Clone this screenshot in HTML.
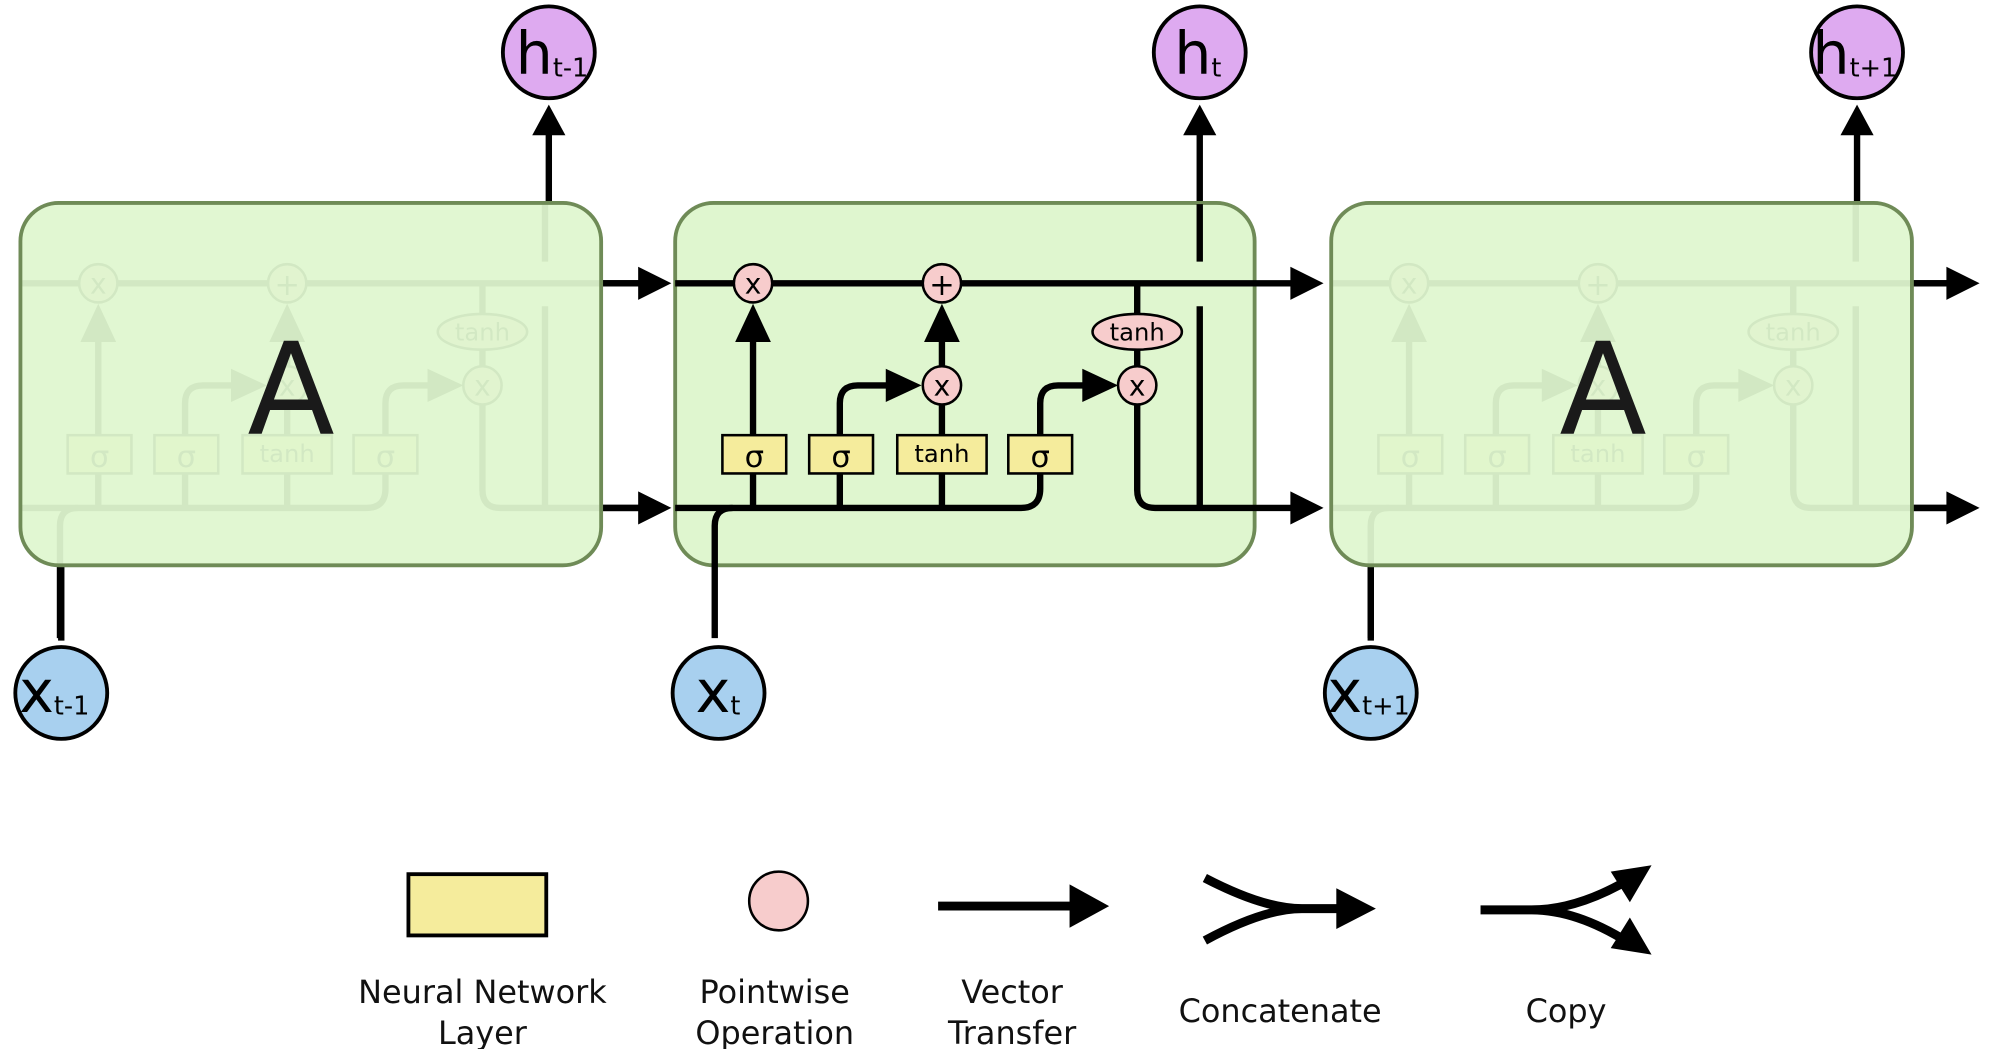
<!DOCTYPE html>
<html><head><meta charset="utf-8"><style>
html,body{margin:0;padding:0;background:#fff;}
svg{display:block;}
text{font-family:"DejaVu Sans","Liberation Sans",sans-serif;}
</style></head><body>
<svg width="2000" height="1049" viewBox="0 0 1567 822" preserveAspectRatio="none" xmlns="http://www.w3.org/2000/svg">
<defs>
<g id="cell">
  <line x1="529" y1="222" x2="1030" y2="222" stroke="#000" stroke-width="5"/>
  <path d="M529 398 L800 398 Q815 398 815 383 L815 360" fill="none" stroke="#000" stroke-width="5"/>
  <path d="M560 500 L560 412 Q560 398 574 398" fill="none" stroke="#000" stroke-width="5"/>
  <line x1="590" y1="398" x2="590" y2="260" stroke="#000" stroke-width="5"/>
  <polygon points="590,238 576,268 604,268" fill="#000"/>
  <path d="M658 398 L658 316 Q658 302 672 302 L705 302" fill="none" stroke="#000" stroke-width="5"/>
  <polygon points="722,302 694,289 694,315" fill="#000"/>
  <line x1="738" y1="398" x2="738" y2="260" stroke="#000" stroke-width="5"/>
  <polygon points="738,238 724,268 752,268" fill="#000"/>
  <path d="M815 360 L815 316 Q815 302 829 302 L860 302" fill="none" stroke="#000" stroke-width="5"/>
  <polygon points="876,302 848,289 848,315" fill="#000"/>
  <line x1="891" y1="222" x2="891" y2="302" stroke="#000" stroke-width="5"/>
  <path d="M891 302 L891 384 Q891 398 905 398 L1030 398" fill="none" stroke="#000" stroke-width="5"/>
  <path d="M940 398 L940 240" fill="none" stroke="#000" stroke-width="5"/>
  <line x1="940" y1="205" x2="940" y2="160" stroke="#000" stroke-width="5"/>
  <circle cx="590" cy="222" r="15" fill="#f7cccc" stroke="#000" stroke-width="2"/>
  <text x="590" y="230" font-size="22" text-anchor="middle">x</text>
  <circle cx="738" cy="222" r="15" fill="#f7cccc" stroke="#000" stroke-width="2"/>
  <text x="738" y="231" font-size="24" text-anchor="middle">+</text>
  <circle cx="738" cy="302" r="15" fill="#f7cccc" stroke="#000" stroke-width="2"/>
  <text x="738" y="310" font-size="22" text-anchor="middle">x</text>
  <circle cx="891" cy="302" r="15" fill="#f7cccc" stroke="#000" stroke-width="2"/>
  <text x="891" y="310" font-size="22" text-anchor="middle">x</text>
  <ellipse cx="891" cy="260" rx="35" ry="14" fill="#f7cccc" stroke="#000" stroke-width="2"/>
  <text x="891" y="267" font-size="19" text-anchor="middle">tanh</text>
  <rect x="566" y="341" width="50" height="30" fill="#f5ec9c" stroke="#000" stroke-width="2"/>
  <text x="591" y="366" font-size="24" text-anchor="middle">σ</text>
  <rect x="634" y="341" width="50" height="30" fill="#f5ec9c" stroke="#000" stroke-width="2"/>
  <text x="659" y="366" font-size="24" text-anchor="middle">σ</text>
  <rect x="703" y="341" width="70" height="30" fill="#f5ec9c" stroke="#000" stroke-width="2"/>
  <text x="738" y="362" font-size="19" text-anchor="middle">tanh</text>
  <rect x="790" y="341" width="50" height="30" fill="#f5ec9c" stroke="#000" stroke-width="2"/>
  <text x="815" y="366" font-size="24" text-anchor="middle">σ</text>
</g>
</defs>

<g stroke="#000" stroke-width="5">
  <line x1="471" y1="222" x2="505" y2="222"/><line x1="471" y1="398" x2="505" y2="398"/>
  <line x1="1498" y1="222" x2="1530" y2="222"/><line x1="1498" y1="398" x2="1530" y2="398"/>
  <line x1="430" y1="158" x2="430" y2="100"/>
  <line x1="940" y1="160" x2="940" y2="100"/>
  <line x1="1455" y1="158" x2="1455" y2="100"/>
  <line x1="48" y1="443" x2="48" y2="502"/>
  <line x1="1074" y1="443" x2="1074" y2="502"/>
</g>
<g fill="#000">
  <polygon points="526,222 500,209 500,235"/><polygon points="526,398 500,385 500,411"/>
  <polygon points="1037,222 1011,209 1011,235"/><polygon points="1037,398 1011,385 1011,411"/>
  <polygon points="1551,222 1525,209 1525,235"/><polygon points="1551,398 1525,385 1525,411"/>
  <polygon points="430,82 417,106 443,106"/><polygon points="940,82 927,106 953,106"/><polygon points="1455,82 1442,106 1468,106"/>
</g>

<use href="#cell" transform="translate(-513,0)"/>
<rect x="16" y="159" width="455" height="284" rx="30" fill="#dff6cf" fill-opacity="0.94" stroke="#6f8b57" stroke-width="3"/>
<text x="228" y="340" font-size="100" text-anchor="middle" fill="#1a1a1a">A</text>

<rect x="529" y="159" width="454" height="284" rx="30" fill="#dff6cf" stroke="#6f8b57" stroke-width="3"/>
<use href="#cell"/>

<use href="#cell" transform="translate(514,0)"/>
<rect x="1043" y="159" width="455" height="284" rx="30" fill="#dff6cf" fill-opacity="0.94" stroke="#6f8b57" stroke-width="3"/>
<text x="1256" y="340" font-size="100" text-anchor="middle" fill="#1a1a1a">A</text>

<g stroke="#000" stroke-width="3">
<circle cx="430" cy="41" r="36" fill="#deaaf0"/>
<circle cx="940" cy="41" r="36" fill="#deaaf0"/>
<circle cx="1455" cy="41" r="36" fill="#deaaf0"/>
<circle cx="48" cy="543" r="36" fill="#a8d0ef"/>
<circle cx="563" cy="543" r="36" fill="#a8d0ef"/>
<circle cx="1074" cy="543" r="36" fill="#a8d0ef"/>
</g>
<g font-size="46">
<text x="404" y="58">h<tspan font-size="20" dy="2">t-1</tspan></text>
<text x="920" y="58">h<tspan font-size="20" dy="2">t</tspan></text>
<text x="1420" y="58">h<tspan font-size="20" dy="2">t+1</tspan></text>
<text x="15" y="558">x<tspan font-size="20" dy="2">t-1</tspan></text>
<text x="545" y="558">x<tspan font-size="20" dy="2">t</tspan></text>
<text x="1040" y="558">x<tspan font-size="20" dy="2">t+1</tspan></text>
</g>

<rect x="320" y="685" width="108" height="48" fill="#f5ec9c" stroke="#000" stroke-width="3"/>
<circle cx="610" cy="706" r="23" fill="#f7cccc" stroke="#000" stroke-width="2"/>
<line x1="735" y1="710" x2="845" y2="710" stroke="#000" stroke-width="7"/>
<polygon points="869,710 838,693 838,727" fill="#000"/>
<path d="M944 688 Q990 712 1020 712 L1055 712 M944 737 Q990 712 1020 712" fill="none" stroke="#000" stroke-width="7"/>
<polygon points="1078,712 1047,696 1047,728" fill="#000"/>
<path d="M1160 713 L1200 713 Q1235 713 1275 690 M1200 713 Q1235 713 1275 738" fill="none" stroke="#000" stroke-width="7"/>
<polygon points="1294,678 1262,683 1277,707" fill="#000"/>
<polygon points="1294,748 1262,743 1277,719" fill="#000"/>
<g font-size="25" text-anchor="middle" fill="#111">
<text x="378" y="786">Neural Network</text><text x="378" y="818">Layer</text>
<text x="607" y="786">Pointwise</text><text x="607" y="818">Operation</text>
<text x="793" y="786">Vector</text><text x="793" y="818">Transfer</text>
<text x="1003" y="801">Concatenate</text>
<text x="1227" y="801">Copy</text>
</g>
</svg>
</body></html>
